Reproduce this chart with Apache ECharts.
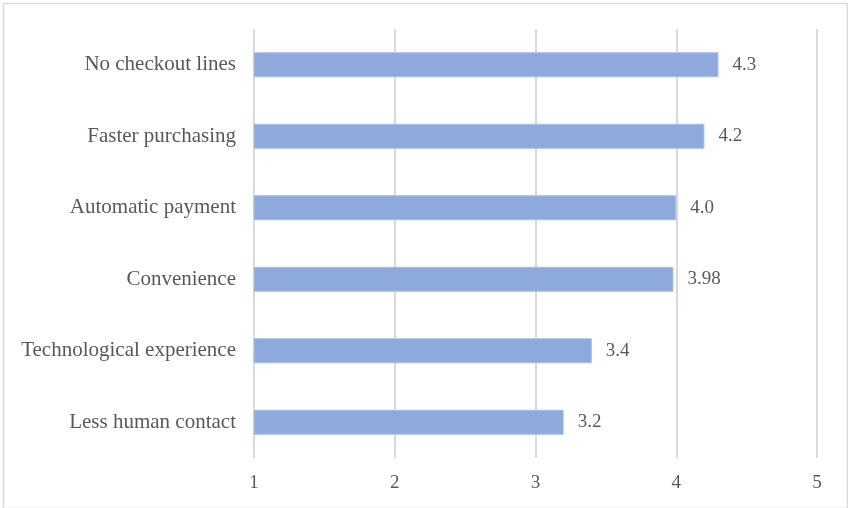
<!DOCTYPE html>
<html>
<head>
<meta charset="utf-8">
<script src="https://cdn.jsdelivr.net/npm/echarts@6/dist/echarts.min.js"></script>
<style>
  html, body { margin: 0; padding: 0; background: #ffffff; }
  #chart { width: 848px; height: 508px; }
</style>
</head>
<body>
<div id="chart"></div>
<script>
// Reasons, top to bottom
const categories = [
  'No checkout lines',
  'Faster purchasing',
  'Automatic payment',
  'Convenience',
  'Technological experience',
  'Less human contact'
];
// Mean scores
const scores = [4.3, 4.2, 4.0, 3.98, 3.4, 3.2];
// Value labels as printed beside each bar
const scoreLabels = ['4.3', '4.2', '4.0', '3.98', '3.4', '3.2'];
// Scale ticks
const xTicks = [1, 2, 3, 4, 5];

const textColor = '#595959';
const fontFamily = '"Liberation Serif", "Times New Roman", serif';

const chart = echarts.init(document.getElementById('chart'), null, { renderer: 'canvas' });

chart.setOption({
  animation: false,
  backgroundColor: '#ffffff',
  graphic: [{
    type: 'rect',
    left: 1, top: 1,
    shape: { width: 844, height: 505 },
    style: { fill: 'none', stroke: '#d9d9d9', lineWidth: 1.5 },
    silent: true
  }],
  grid: { left: 254, right: 31, top: 29, bottom: 50, containLabel: false },
  xAxis: {
    type: 'value',
    min: xTicks[0],
    max: xTicks[xTicks.length - 1],
    interval: 1,
    axisLine: { show: false },
    axisTick: { show: false },
    splitLine: { show: true, lineStyle: { color: '#d9d9d9', width: 2 } },
    axisLabel: {
      margin: 16,
      color: textColor,
      fontFamily: fontFamily,
      fontSize: 19
    }
  },
  yAxis: {
    type: 'category',
    data: categories,
    inverse: true,
    axisLine: { show: false },
    axisTick: { show: false },
    axisLabel: {
      margin: 18,
      padding: [4, 0, 0, 0],
      color: textColor,
      fontFamily: fontFamily,
      fontSize: 21
    }
  },
  series: [{
    type: 'bar',
    data: scores,
    barWidth: 25,
    itemStyle: { color: '#8eaadc', borderColor: '#a9bfe6', borderWidth: 1 },
    label: {
      show: true,
      position: 'right',
      distance: 14,
      padding: [6, 0, 0, 0],
      color: textColor,
      fontFamily: fontFamily,
      fontSize: 19,
      formatter: (p) => scoreLabels[p.dataIndex]
    }
  }]
});
</script>
</body>
</html>
